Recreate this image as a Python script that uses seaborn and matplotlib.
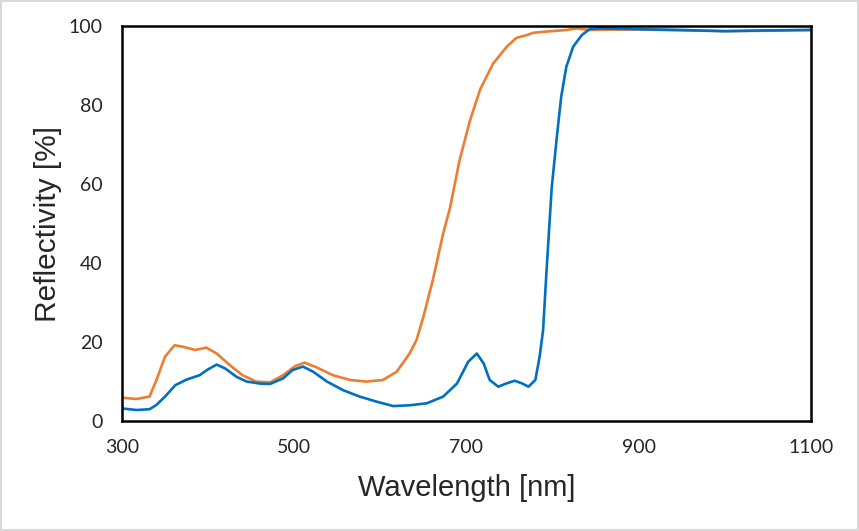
import numpy as np
import pandas as pd
import matplotlib
matplotlib.use("Agg")
import matplotlib.pyplot as plt
import seaborn as sns
from matplotlib.patches import Rectangle

##############################
# Data
##############################
orange_wl = [300, 317, 332, 340, 350, 361, 371, 385, 398, 410, 425, 440, 456, 472,
             487, 501, 512, 526, 545, 565, 584, 603, 619, 634, 642, 650, 661, 673,
             681, 692, 704, 716, 731, 747, 758, 770, 778, 793, 816, 828, 843, 870,
             900, 950, 1000, 1050, 1100]
orange_r = [5.9, 5.6, 6.2, 10.4, 16.3, 19.2, 18.8, 18.0, 18.6, 17.1, 14.2, 11.6, 10.0, 9.8,
            11.6, 13.9, 14.8, 13.6, 11.6, 10.4, 10.0, 10.4, 12.5, 17.1, 20.5, 26.4, 35.7, 47.5,
            54.0, 66.0, 76.0, 84.0, 90.5, 94.8, 97.0, 97.7, 98.3, 98.6, 99.0, 99.4, 99.0, 99.1,
            99.1, 98.9, 98.7, 98.8, 99.0]

blue_wl = [300, 317, 332, 340, 350, 362, 375, 390, 400, 410, 420, 433, 445, 460, 472,
           487, 498, 510, 522, 538, 557, 576, 596, 615, 634, 654, 673, 689, 702, 712,
           720, 727, 737, 746, 756, 765, 772, 780, 785, 789, 793, 799, 805, 810, 816,
           824, 834, 843, 855, 900, 950, 1000, 1050, 1100]
blue_r = [3.2, 2.8, 3.0, 4.1, 6.2, 9.1, 10.5, 11.6, 13.1, 14.3, 13.3, 11.2, 10.0, 9.5, 9.4,
          10.8, 12.9, 13.8, 12.5, 10.0, 7.8, 6.2, 4.9, 3.8, 4.0, 4.5, 6.2, 9.5, 15.0, 17.1,
          14.6, 10.4, 8.7, 9.5, 10.2, 9.5, 8.7, 10.4, 16.3, 23.0, 38.0, 59.0, 72.0, 82.0, 89.7,
          94.8, 97.7, 99.2, 99.4, 99.2, 99.0, 98.7, 98.9, 99.0]

x_ticks = [300, 500, 700, 900, 1100]
y_ticks = [0, 20, 40, 60, 80, 100]

##############################
# Plot
##############################
sns.set_style("white")
plt.rcParams['font.family'] = ['Lato', 'DejaVu Sans']

fig = plt.figure(figsize=(8.59, 5.31), dpi=100)
ax = fig.add_axes([0.142, 0.207, 0.802, 0.744])

sns.lineplot(x=orange_wl, y=orange_r, ax=ax, color='#ED7D31', linewidth=1.9)
sns.lineplot(x=blue_wl, y=blue_r, ax=ax, color='#0070C0', linewidth=1.9)

ax.set_xlim(300, 1100)
ax.set_ylim(0, 100)
ax.set_xticks(x_ticks)
ax.set_yticks(y_ticks)
ax.tick_params(axis='x', direction='in', length=5, width=1.5, labelsize=14,
               colors='black', pad=13)
ax.tick_params(axis='y', direction='out', length=5, width=1.5, labelsize=14,
               colors='black', pad=9)
ax.tick_params(axis='both', labelcolor='#262626')
for sp in ax.spines.values():
    sp.set_color('black')
    sp.set_linewidth(1.8)

label_font = ['Liberation Sans', 'DejaVu Sans']
ax.set_xlabel('Wavelength [nm]', fontsize=21, color='#262626', labelpad=13,
              family=label_font)
ax.set_ylabel('Reflectivity [%]', fontsize=21.5, color='#262626', labelpad=5,
              family=label_font)

# light gray border round the figure
fig.patches.append(Rectangle((0.001, 0.001), 0.998, 0.997, transform=fig.transFigure,
                             fill=False, edgecolor='#d9d9d9', linewidth=1.5))

plt.savefig("out.png", dpi=100)
